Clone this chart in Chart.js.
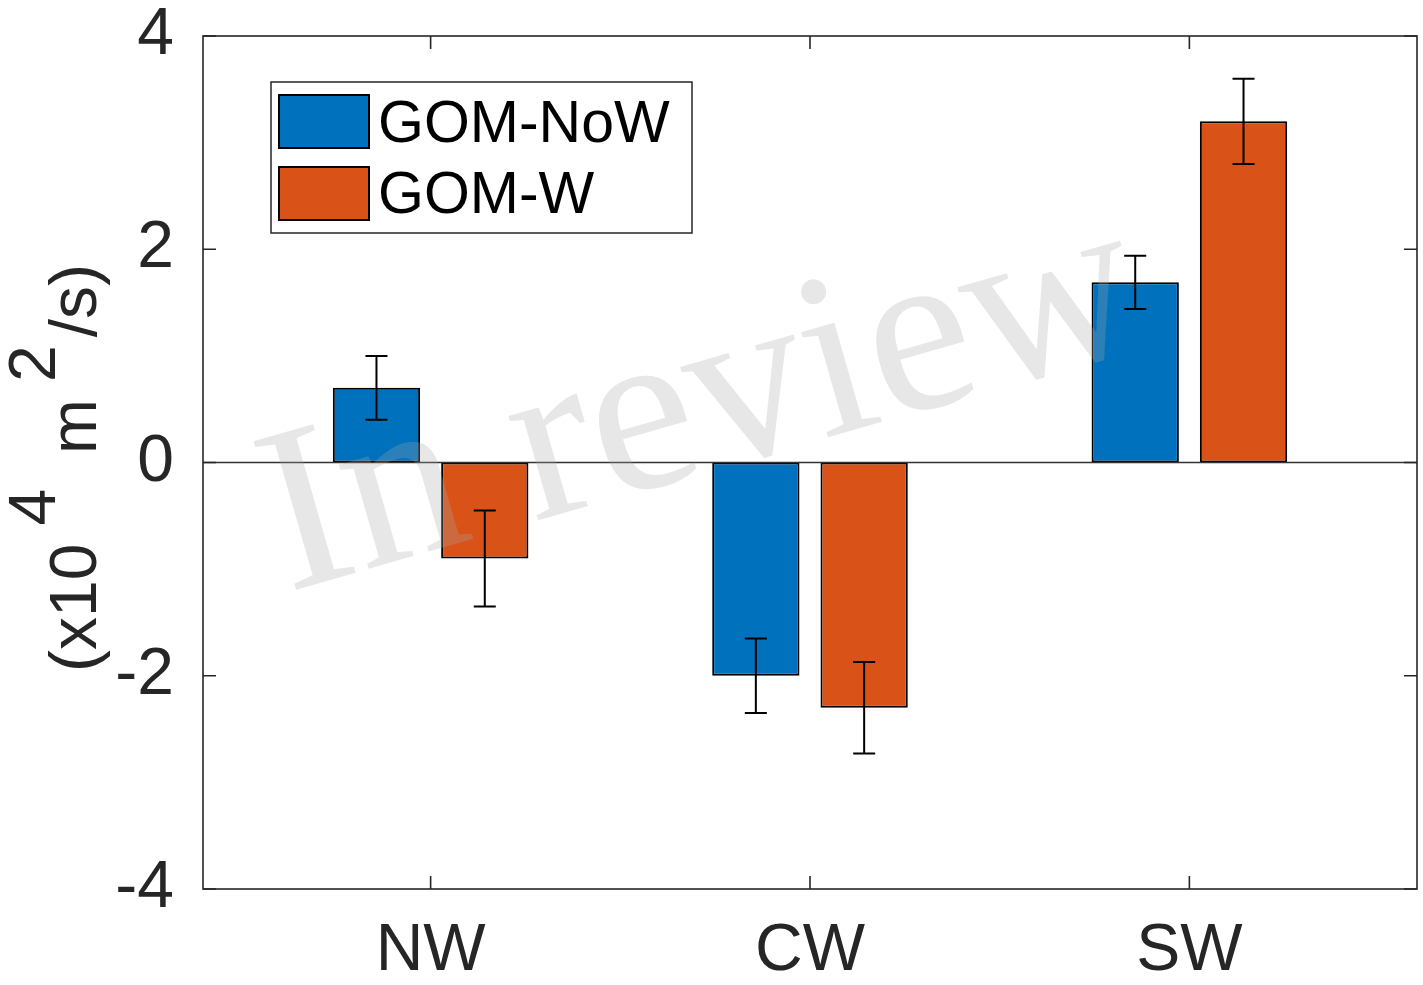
<!DOCTYPE html>
<html>
<head>
<meta charset="utf-8">
<script src="https://cdn.jsdelivr.net/npm/chart.js@4.4.1/dist/chart.umd.min.js"></script>
<style>
  html, body { margin: 0; padding: 0; background: #ffffff; }
  #wrap { width: 1423px; height: 985px; }
</style>
</head>
<body>
<div id="wrap"><canvas id="c" width="1423" height="985"></canvas></div>
<script>
// Regions and the two model runs
const categories = ['NW', 'CW', 'SW'];
const seriesNames = ['GOM-NoW', 'GOM-W'];
const noWValues = [0.7, -2.0, 1.69];
const noWErrors = [0.3, 0.35, 0.25];
const wValues = [-0.9, -2.3, 3.2];
const wErrors = [0.45, 0.43, 0.4];
const yTickValues = [-4, -2, 0, 2, 4];

const AXIS_COLOR = '#262626';
const FONT = '"Liberation Sans", Arial, Helvetica, sans-serif';

function toPoints(values) {
  return values.map((v, i) => ({ x: i + 1, y: v }));
}

// Axes box, inward ticks, zero baseline and error bars
const framePlugin = {
  id: 'frame',
  afterDatasetsDraw(chart) {
    const { ctx, chartArea: a, scales } = chart;
    const xs = scales.x, ys = scales.y;
    ctx.save();

    // baseline at zero
    const y0 = ys.getPixelForValue(0);
    ctx.strokeStyle = '#333333';
    ctx.lineWidth = 1.5;
    ctx.beginPath();
    ctx.moveTo(a.left, y0);
    ctx.lineTo(a.right, y0);
    ctx.stroke();

    // error bars
    const errs = [noWErrors, wErrors];
    ctx.strokeStyle = '#000000';
    ctx.lineWidth = 2;
    chart.data.datasets.forEach((ds, di) => {
      const meta = chart.getDatasetMeta(di);
      meta.data.forEach((bar, i) => {
        const v = ds.data[i].y;
        const e = errs[di][i];
        const yt = ys.getPixelForValue(v + e);
        const yb = ys.getPixelForValue(v - e);
        const x = bar.x;
        ctx.beginPath();
        ctx.moveTo(x, yt); ctx.lineTo(x, yb);
        ctx.moveTo(x - 11, yt); ctx.lineTo(x + 11, yt);
        ctx.moveTo(x - 11, yb); ctx.lineTo(x + 11, yb);
        ctx.stroke();
      });
    });

    // box
    ctx.strokeStyle = AXIS_COLOR;
    ctx.lineWidth = 1.6;
    ctx.strokeRect(a.left, a.top, a.right - a.left, a.bottom - a.top);

    // inward ticks
    const tl = 13;
    ctx.beginPath();
    yTickValues.forEach(v => {
      const y = ys.getPixelForValue(v);
      ctx.moveTo(a.left, y); ctx.lineTo(a.left + tl, y);
      ctx.moveTo(a.right, y); ctx.lineTo(a.right - tl, y);
    });
    categories.forEach((c, i) => {
      const x = xs.getPixelForValue(i + 1);
      ctx.moveTo(x, a.bottom); ctx.lineTo(x, a.bottom - tl);
      ctx.moveTo(x, a.top); ctx.lineTo(x, a.top + tl);
    });
    ctx.stroke();
    ctx.restore();
  }
};

// Legend box in the upper left of the axes
const legendPlugin = {
  id: 'boxLegend',
  afterDatasetsDraw(chart) {
    const { ctx } = chart;
    const bx = 271, by = 82, bw = 421, bh = 151;
    ctx.save();
    ctx.fillStyle = '#ffffff';
    ctx.fillRect(bx, by, bw, bh);
    ctx.strokeStyle = AXIS_COLOR;
    ctx.lineWidth = 1.5;
    ctx.strokeRect(bx, by, bw, bh);
    ctx.font = '59px ' + FONT;
    ctx.textBaseline = 'alphabetic';
    ctx.textAlign = 'left';
    chart.data.datasets.forEach((ds, i) => {
      const sy = 95 + i * 72;
      ctx.fillStyle = ds.backgroundColor;
      ctx.fillRect(279, sy, 90, 53);
      ctx.strokeStyle = '#000000';
      ctx.lineWidth = 2;
      ctx.strokeRect(279, sy, 90, 53);
      ctx.fillStyle = '#000000';
      ctx.fillText(ds.label, 378, 142 + i * 71);
    });
    ctx.restore();
  }
};

// Vertical axis title with raised exponents
const yTitlePlugin = {
  id: 'yTitle',
  afterDraw(chart) {
    const { ctx } = chart;
    ctx.save();
    ctx.translate(96, 672);
    ctx.rotate(-Math.PI / 2);
    ctx.font = '66px ' + FONT;
    ctx.fillStyle = AXIS_COLOR;
    ctx.textBaseline = 'alphabetic';
    ctx.textAlign = 'left';
    const pieces = [['(x10', 0, 0], ['4', 1, 18], ['m', 0, 35], ['2', 1, 17], ['/s)', 0, 8]];
    let pos = 0;
    pieces.forEach(([t, sup, gap]) => {
      pos += gap;
      ctx.fillText(t, pos, sup ? -41 : 0);
      pos += ctx.measureText(t).width;
    });
    ctx.restore();
  }
};

// Review watermark across the plot
const stampPlugin = {
  id: 'stamp',
  afterDraw(chart) {
    const { ctx } = chart;
    ctx.save();
    ctx.translate(288, 592);
    ctx.rotate(-16 * Math.PI / 180);
    ctx.font = '236px "Liberation Serif", "Times New Roman", serif';
    ctx.fillStyle = 'rgba(165,165,165,0.27)';
    ctx.textBaseline = 'alphabetic';
    ctx.fillText('In review', 0, 0);
    ctx.restore();
  }
};

new Chart(document.getElementById('c'), {
  type: 'bar',
  data: {
    datasets: [
      {
        label: seriesNames[0],
        data: toPoints(noWValues),
        backgroundColor: '#0072BD',
        borderColor: '#000000',
        borderWidth: 2,
        borderSkipped: false
      },
      {
        label: seriesNames[1],
        data: toPoints(wValues),
        backgroundColor: '#D95319',
        borderColor: '#000000',
        borderWidth: 2,
        borderSkipped: false
      }
    ]
  },
  options: {
    responsive: false,
    animation: false,
    devicePixelRatio: 1,
    categoryPercentage: 0.571,
    barPercentage: 0.806,
    layout: { padding: { top: 36, right: 6, left: 0, bottom: 0 } },
    plugins: {
      legend: { display: false },
      tooltip: { enabled: false }
    },
    scales: {
      x: {
        type: 'linear',
        offset: false,
        min: 0.4,
        max: 3.6,
        grid: { display: false, drawTicks: false, offset: false },
        border: { display: false },
        afterBuildTicks: s => { s.ticks = categories.map((c, i) => ({ value: i + 1 })); },
        afterFit: s => { s.height = 96; s.paddingLeft = 0; s.paddingRight = 0; },
        ticks: {
          autoSkip: false,
          maxRotation: 0,
          padding: 30,
          color: AXIS_COLOR,
          font: { family: FONT, size: 66, lineHeight: 1.0 },
          callback: v => categories[Math.round(v) - 1] || ''
        }
      },
      y: {
        min: -4,
        max: 4,
        grid: { display: false, drawTicks: false },
        border: { display: false },
        afterBuildTicks: s => { s.ticks = yTickValues.map(v => ({ value: v })); },
        afterFit: s => { s.width = 203; s.paddingTop = 0; s.paddingBottom = 0; },
        ticks: {
          padding: 29,
          color: AXIS_COLOR,
          font: { family: FONT, size: 66, lineHeight: 1.0 },
          callback: v => String(v)
        }
      }
    }
  },
  plugins: [framePlugin, legendPlugin, yTitlePlugin, stampPlugin]
});
</script>
</body>
</html>
